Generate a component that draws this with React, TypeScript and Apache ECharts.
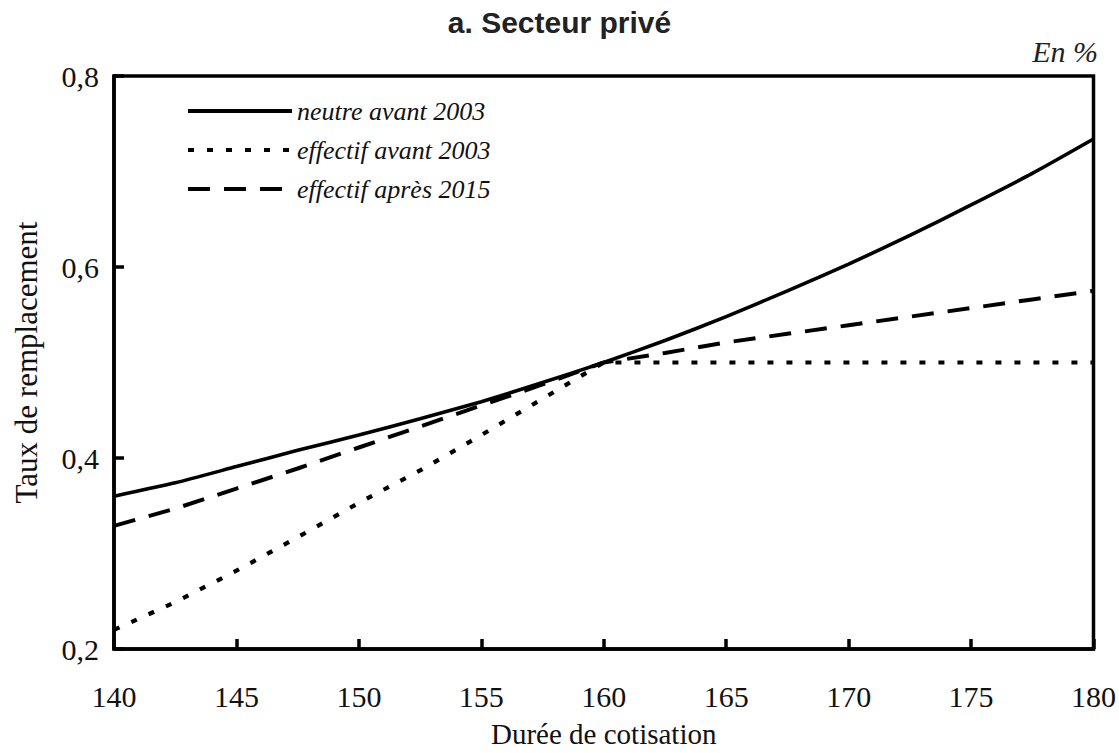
import React, { useEffect, useRef } from "react";
import * as echarts from "echarts";

const durees = [140, 142.5, 145, 147.5, 150, 152.5, 155, 157.5, 160, 162.5, 165, 167.5, 170, 172.5, 175, 177.5, 180];
const neutreAvant2003 = [0.36, 0.374, 0.391, 0.408, 0.424, 0.441, 0.459, 0.479, 0.5, 0.523, 0.548, 0.575, 0.603, 0.633, 0.665, 0.698, 0.734];
const effectifAvant2003 = [0.22, 0.249, 0.282, 0.317, 0.353, 0.387, 0.424, 0.462, 0.5, 0.5, 0.5, 0.5, 0.5, 0.5, 0.5, 0.5, 0.5];
const effectifApres2015 = [0.329, 0.347, 0.368, 0.389, 0.411, 0.433, 0.455, 0.477, 0.5, 0.51, 0.521, 0.53, 0.539, 0.548, 0.557, 0.566, 0.575];
const seriesNames = ["neutre avant 2003", "effectif avant 2003", "effectif après 2015"];
const titleText = "a. Secteur privé";
const unitText = "En %";
const xName = "Durée de cotisation";
const yName = "Taux de remplacement";

const serif = "'Liberation Serif', 'Times New Roman', serif";

export default function App() {
  const ref = useRef<HTMLDivElement>(null);
  useEffect(() => {
    document.body.style.margin = "0";
    const chart = echarts.init(ref.current!, null, { renderer: "svg" });
    const toPairs = (vals: number[]) => durees.map((d, i) => [d, vals[i]]);
    chart.setOption({
      animation: false,
      backgroundColor: "#fff",
      title: {
        text: titleText,
        left: "center",
        top: 2,
        textStyle: { fontFamily: "'Liberation Sans', Arial, sans-serif", fontWeight: "bold", fontSize: 30, color: "#222" },
      },
      graphic: [
        {
          type: "text",
          right: 21,
          top: 36,
          style: { text: unitText, font: `italic 30px ${serif}`, fill: "#222" },
        },
      ],
      legend: {
        orient: "vertical",
        left: 181,
        top: 93,
        itemWidth: 104,
        itemHeight: 14,
        itemGap: 13,
        itemStyle: { opacity: 0 },
        lineStyle: { width: 4 },
        textStyle: { fontFamily: serif, fontStyle: "italic", fontSize: 26, color: "#111", lineHeight: 25 },
        data: seriesNames,
      },
      grid: {
        left: 114,
        right: 24,
        top: 76,
        bottom: 97,
        show: true,
        borderColor: "#000",
        borderWidth: 3.5,
      },
      xAxis: {
        type: "value",
        min: 140,
        max: 180,
        interval: 5,
        name: xName,
        nameLocation: "middle",
        nameGap: 70,
        nameTextStyle: { fontFamily: serif, fontSize: 29, color: "#111" },
        axisLine: { show: true, lineStyle: { color: "#000", width: 3.5 } },
        axisTick: { show: true, inside: true, length: 10, lineStyle: { color: "#000", width: 3.5 } },
        axisLabel: { fontFamily: serif, fontSize: 30, color: "#111", margin: 32 },
        splitLine: { show: false },
      },
      yAxis: {
        type: "value",
        min: 0.2,
        max: 0.8,
        interval: 0.2,
        name: yName,
        nameLocation: "middle",
        nameGap: 72,
        nameTextStyle: { fontFamily: serif, fontSize: 31, color: "#111" },
        axisLine: { show: true, lineStyle: { color: "#000", width: 3.5 } },
        axisTick: { show: true, inside: true, length: 10, lineStyle: { color: "#000", width: 3.5 } },
        axisLabel: {
          fontFamily: serif,
          fontSize: 30,
          color: "#111",
          margin: 15,
          formatter: (v: number) => v.toFixed(1).replace(".", ","),
        },
        splitLine: { show: false },
      },
      series: [
        {
          name: seriesNames[0],
          type: "line",
          data: toPairs(neutreAvant2003),
          symbol: "none",
          smooth: 0.2,
          lineStyle: { color: "#000", width: 3.6, type: "solid" },
          itemStyle: { color: "#000" },
          z: 3,
        },
        {
          name: seriesNames[1],
          type: "line",
          data: toPairs(effectifAvant2003),
          symbol: "none",
          lineStyle: { color: "#000", width: 4.2, type: [6, 13] },
          itemStyle: { color: "#000" },
          z: 2,
        },
        {
          name: seriesNames[2],
          type: "line",
          data: toPairs(effectifApres2015),
          symbol: "none",
          lineStyle: { color: "#000", width: 4, type: [22, 14] },
          itemStyle: { color: "#000" },
          z: 2,
        },
      ],
    });
    return () => chart.dispose();
  }, []);
  return <div ref={ref} style={{ width: 1119, height: 753 }} />;
}
